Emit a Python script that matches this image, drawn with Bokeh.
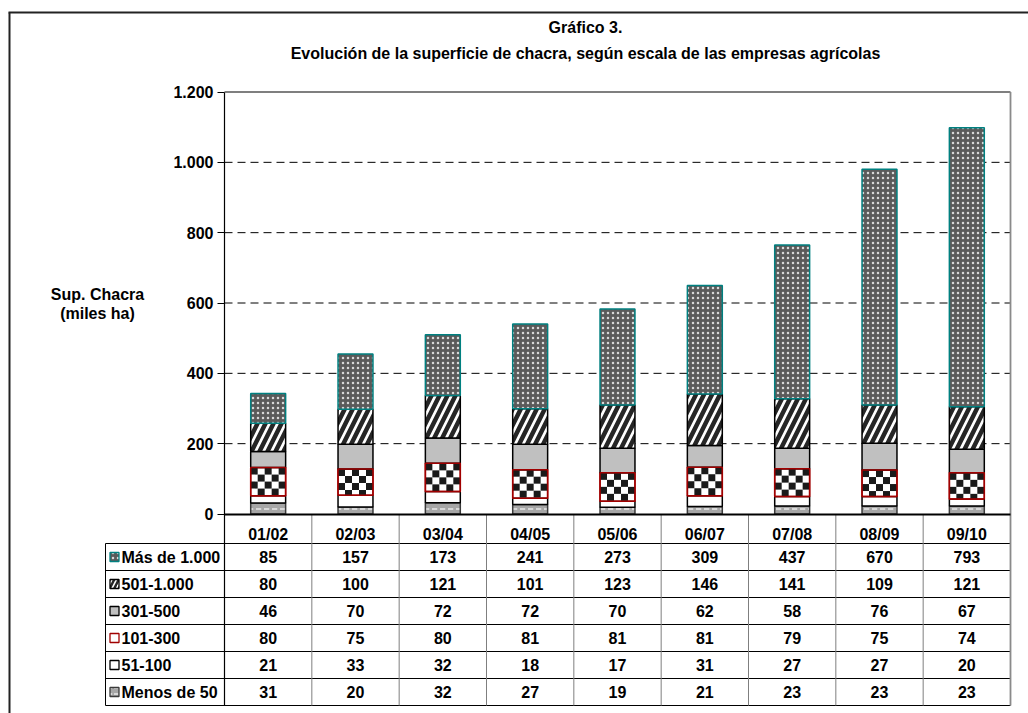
import math
from bokeh.plotting import figure
from bokeh.models import Range1d, LinearAxis, FixedTicker, ColumnDataSource
from bokeh.core.properties import value
from bokeh.embed import file_html
from bokeh.resources import INLINE

# ---------------- data ----------------
categories = ["01/02", "02/03", "03/04", "04/05", "05/06", "06/07", "07/08", "08/09", "09/10"]
menos_50 = [31, 20, 32, 27, 19, 21, 23, 23, 23]
r51_100 = [21, 33, 32, 18, 17, 31, 27, 27, 20]
r101_300 = [80, 75, 80, 81, 81, 81, 79, 75, 74]
r301_500 = [46, 70, 72, 72, 70, 62, 58, 76, 67]
r501_1000 = [80, 100, 121, 101, 123, 146, 141, 109, 121]
mas_1000 = [85, 157, 173, 241, 273, 309, 437, 670, 793]
series_labels = ["Menos de 50", "51-100", "101-300", "301-500", "501-1.000", "Más de 1.000"]
y_ticks = [0, 200, 400, 600, 800, 1000, 1200]
y_tick_labels = ["0", "200", "400", "600", "800", "1.000", "1.200"]
title_lines = ["Gráfico 3.", "Evolución de la superficie de chacra, según escala de las empresas agrícolas"]
y_title_lines = ["Sup. Chacra", "(miles ha)"]

series_values = [menos_50, r51_100, r101_300, r301_500, r501_1000, mas_1000]
keys = ["s0", "s1", "s2", "s3", "s4", "s5"]

# ---------------- layout helpers (page pixels -> data) ----------------
W, H = 1028, 713
AX_X, AX_Y = 224, 513.5
CAT_PX = 786 / 9
Y_PX = 422 / 1200
BAR_W = 0.4


def dx(px):
    return -0.5 + (px - AX_X) / CAT_PX


def dy(py):
    return (AX_Y - py) / Y_PX


HEADER_BOTTOM = 543
ROW_H = 27
TABLE_LEFT = 105
TABLE_BOTTOM = HEADER_BOTTOM + ROW_H * 6
FONT_NAME = "Liberation Sans"
FONT = value(FONT_NAME)
FS = "16px"

p = figure(width=W, height=H,
           x_range=Range1d(dx(0), dx(W)), y_range=Range1d(dy(H), dy(0)),
           output_backend="svg", toolbar_location=None,
           x_axis_location=None, y_axis_location=None,
           min_border=0, outline_line_color=None, background_fill_color="white")
p.grid.visible = False

# ---------------- styles (bottom -> top) ----------------
fills = ["#a6a6a6", "#ffffff", "#ffffff", "#c0c0c0", "#ffffff", "#5a5a5a"]
lines = ["#3a3a3a", "#000000", "#a00000", "#000000", "#000000", "#008080"]
hpat = ["horizontal_dash", " ", " ", " ", "right_diagonal_line", "dot"]
hcol = ["#e8e8e8", "#000000", "#000000", "#000000", "#262626", "#d8d8d8"]
hscale = [8, 8, 8, 8, 16, 5]
hweight = [1.5, 1, 1, 1, 4.5, 1.2]

# ---------------- grid / frame lines ----------------
n = len(categories)
grid_vals = [t for t in y_ticks if 0 < t < max(y_ticks)]
p.segment(x0=[-0.5] * len(grid_vals), x1=[n - 0.5] * len(grid_vals),
          y0=grid_vals, y1=grid_vals, line_color="#000000", line_width=1, line_dash="8 5")
p.segment(x0=[-0.5], x1=[n - 0.5], y0=[max(y_ticks)], y1=[max(y_ticks)],
          line_color="#000000", line_width=1.2)

# outer chart border (left + top)
p.segment(x0=[dx(9), dx(8)], x1=[dx(9), dx(1040)], y0=[dy(12), dy(12)], y1=[dy(730), dy(12)],
          line_color="#222222", line_width=2)

# ---------------- bars ----------------
src = ColumnDataSource(dict(x=list(range(n)), **{k: v for k, v in zip(keys, series_values)}))
p.vbar_stack(keys, x="x", width=BAR_W, source=src,
             fill_color=fills, line_color=lines, line_width=1.5,
             hatch_pattern=hpat, hatch_color=hcol, hatch_scale=hscale, hatch_weight=hweight)

# checkerboard fill of the 101-300 segment, derived from the stacked values
chk_bottom = [a + b for a, b in zip(menos_50, r51_100)]
chk_top = [b + v for b, v in zip(chk_bottom, r101_300)]
SQ = 7.0
sq_w = BAR_W / 5
sq_h = SQ / Y_PX
ql, qr, qb, qt = [], [], [], []
for i in range(n):
    nrows = int(math.ceil((chk_top[i] - chk_bottom[i]) / sq_h))
    for r in range(nrows):
        top = chk_top[i] - r * sq_h
        bot = max(chk_bottom[i], top - sq_h)
        for c in range(5):
            if (r + c) % 2 == 0:
                left = i - BAR_W / 2 + c * sq_w
                ql.append(left)
                qr.append(left + sq_w)
                qb.append(bot)
                qt.append(top)
p.quad(left=ql, right=qr, bottom=qb, top=qt, fill_color="#1a1a1a", line_color=None)
p.vbar(x=list(range(n)), width=BAR_W, bottom=chk_bottom, top=chk_top,
       fill_color=None, line_color=lines[2], line_width=1.5)

# ---------------- table lines ----------------
row_edges = [HEADER_BOTTOM + ROW_H * k for k in range(7)]
p.segment(x0=[dx(TABLE_LEFT)] * 7, x1=[n - 0.5] * 7,
          y0=[dy(y) for y in row_edges], y1=[dy(y) for y in row_edges],
          line_color="#000000", line_width=1)
p.segment(x0=[dx(TABLE_LEFT)], x1=[dx(TABLE_LEFT)], y0=[dy(HEADER_BOTTOM)], y1=[dy(TABLE_BOTTOM)],
          line_color="#000000", line_width=1)
seps = [k + 0.5 for k in range(n - 1)]
p.segment(x0=seps, x1=seps, y0=[0] * len(seps), y1=[dy(TABLE_BOTTOM)] * len(seps),
          line_color="#7f7f7f", line_width=1)
p.segment(x0=[n - 0.5], x1=[n - 0.5], y0=[max(y_ticks)], y1=[dy(TABLE_BOTTOM)],
          line_color="#8a8a8a", line_width=1.8)

# ---------------- axes ----------------
yaxis = LinearAxis(ticker=FixedTicker(ticks=y_ticks), fixed_location=-0.5,
                   bounds=(dy(TABLE_BOTTOM), max(y_ticks)),
                   major_label_overrides={t: l for t, l in zip(y_ticks, y_tick_labels)},
                   axis_line_color="#000000", axis_line_width=1.2,
                   major_tick_in=0, major_tick_out=7, major_tick_line_color="#000000",
                   minor_tick_line_color=None, major_label_standoff=4,
                   major_label_text_font=FONT_NAME, major_label_text_font_style="bold",
                   major_label_text_font_size=FS, major_label_text_color="#000000")
p.add_layout(yaxis, "left")

xaxis = LinearAxis(ticker=FixedTicker(ticks=list(range(n))), fixed_location=0,
                   bounds=(-0.5, n - 0.5),
                   major_label_overrides={i: c for i, c in enumerate(categories)},
                   axis_line_color="#000000", axis_line_width=2.2,
                   major_tick_line_color=None, minor_tick_line_color=None,
                   major_label_standoff=6,
                   major_label_text_font=FONT_NAME, major_label_text_font_style="bold",
                   major_label_text_font_size=FS, major_label_text_color="#000000")
p.add_layout(xaxis, "below")

# ---------------- table rows: keys, labels, values ----------------
row_centers = [dy(HEADER_BOTTOM + ROW_H * (k + 0.5)) for k in range(6)]
order = list(range(5, -1, -1))  # top row = last series
key_scale = [6, 6, 6, 6, 9, 5]
key_weight = [1.5, 1, 1, 1, 2.5, 1.2]
for row, si in enumerate(order):
    yc = row_centers[row]
    p.rect(x=[dx(114)], y=[yc], width=9, height=9, width_units="screen", height_units="screen",
           fill_color=fills[si], line_color=lines[si], line_width=1.3,
           hatch_pattern=hpat[si], hatch_color=hcol[si], hatch_scale=key_scale[si],
           hatch_weight=key_weight[si])
    p.text(x=[dx(121)], y=[yc], text=[series_labels[si]], text_font=FONT, text_font_style="bold",
           text_font_size=FS, text_align="left", text_baseline="middle", text_color="#000000")
    vsrc = ColumnDataSource(dict(x=list(range(n)), y=[yc] * n, t=[str(v) for v in series_values[si]]))
    p.text(x="x", y="y", text="t", source=vsrc, text_font=FONT, text_font_style="bold",
           text_font_size=FS, text_align="center", text_baseline="middle", text_color="#000000")

# ---------------- titles ----------------
p.text(x=[dx(585)] * 2, y=[dy(27), dy(53)], text=title_lines, text_font=FONT,
       text_font_style="bold", text_font_size=FS, text_align="center", text_baseline="middle",
       text_color="#000000")
p.text(x=[dx(97)] * 2, y=[dy(294), dy(313)], text=y_title_lines, text_font=FONT,
       text_font_style="bold", text_font_size=FS, text_align="center", text_baseline="middle",
       text_color="#000000")

open("out.html", "w").write(file_html(p, INLINE))
